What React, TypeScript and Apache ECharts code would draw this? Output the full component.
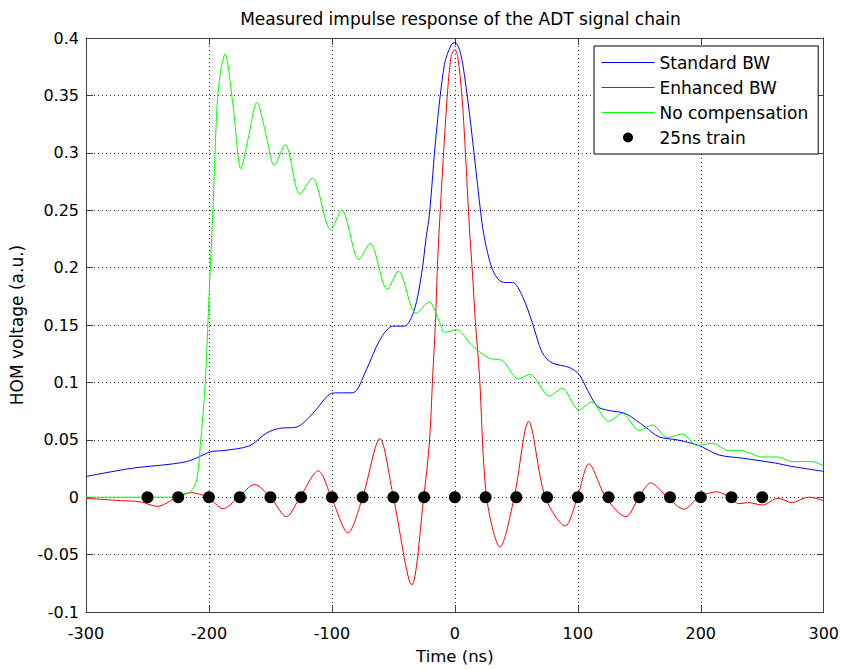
import React, { useEffect, useRef } from "react";
import * as echarts from "echarts";

const FONT = '"DejaVu Sans", "Liberation Sans", Arial, sans-serif';

const chartTitle = "Measured impulse response of the ADT signal chain";
const xName = "Time (ns)";
const yName = "HOM voltage (a.u.)";
const seriesNames = ["Standard BW", "Enhanced BW", "No compensation", "25ns train"];
const seriesColors = ["#0000ff", "#ff0000", "#00ff00", "#000000"];

const standardBW: number[][] = [
  [-300, 0.018], [-264, 0.025], [-218, 0.031], [-197, 0.040], [-189, 0.0405], [-167, 0.0448],
  [-153, 0.056], [-142.5, 0.060], [-129, 0.061], [-115.5, 0.073], [-104.7, 0.087], [-99, 0.0908],
  [-83, 0.091], [-72, 0.111], [-61, 0.137], [-50.5, 0.149], [-41, 0.149], [-33, 0.163],
  [-27, 0.195], [-23.4, 0.226], [-20.7, 0.246], [-15.3, 0.315], [-8.5, 0.377], [-3, 0.394],
  [0, 0.396], [3, 0.392], [6.3, 0.378], [11.8, 0.335], [17.2, 0.284], [22.6, 0.235],
  [26.6, 0.213], [30.7, 0.198], [36, 0.189], [41, 0.187], [47, 0.187], [55, 0.175],
  [63, 0.152], [71, 0.126], [79, 0.117], [93, 0.113], [101, 0.107], [108, 0.093],
  [116, 0.079], [125, 0.0756], [139, 0.0727], [155, 0.061], [166, 0.0526], [182, 0.0497],
  [198.5, 0.045], [214.7, 0.0368], [233.7, 0.034], [260.8, 0.0297], [274, 0.0268], [300, 0.0225],
];

const enhancedBW: number[][] = [
  [-300, -0.001], [-285, -0.002], [-272, -0.003], [-256, -0.004], [-242, -0.008], [-226, 0],
  [-215, 0.004], [-201, 0], [-188.5, -0.010], [-176, 0], [-163, 0.011], [-150, 0],
  [-137, -0.017], [-126, 0], [-111, 0.023], [-100.5, 0], [-87, -0.031], [-75, 0],
  [-61, 0.051], [-50, 0], [-35, -0.0765], [-25.3, 0], [-20.7, 0.048], [-18, 0.106],
  [-15.8, 0.152], [-14, 0.206], [-11.2, 0.263], [-8.5, 0.312], [-5.8, 0.355], [-3, 0.384],
  [0, 0.390], [2.3, 0.384], [5.8, 0.349], [9, 0.292], [11.8, 0.235], [14.5, 0.192],
  [16.6, 0.154], [20, 0.106], [25.8, 0], [36.7, -0.0435], [48.3, 0], [60, 0.066],
  [73.5, 0], [89.7, -0.025], [99.7, 0], [109, 0.029], [122.7, 0], [139, -0.017],
  [149.8, 0], [159.3, 0.0125], [172.8, 0], [186.3, -0.0105], [198.5, 0], [213.4, 0.0047],
  [222.9, 0], [231, -0.0056], [239, -0.0047], [250, -0.0068], [263, -0.001], [274, -0.0047],
  [287.7, 0], [300, -0.003],
];

const noCompensation: number[][] = [
  [-300, 0], [-260, 0], [-230, 0], [-223, 0.001], [-215, 0.005], [-210, 0.015],
  [-207, 0.045], [-203, 0.10], [-200, 0.174], [-196.6, 0.255], [-193.4, 0.341], [-190.6, 0.37],
  [-187, 0.386], [-180.4, 0.341], [-174, 0.286], [-168.2, 0.312], [-161, 0.344], [-152.8, 0.312],
  [-147, 0.289], [-138, 0.307], [-126, 0.264], [-116, 0.278], [-101, 0.233], [-92, 0.250],
  [-78, 0.207], [-69, 0.221], [-55, 0.181], [-46, 0.197], [-31.5, 0.160], [-21, 0.170],
  [-12.6, 0.153], [-8.5, 0.1435], [1, 0.146], [14.5, 0.1315], [28, 0.121], [38.6, 0.119],
  [52, 0.103], [61, 0.107], [77, 0.088], [87, 0.095], [101, 0.076], [111, 0.083],
  [125, 0.066], [136, 0.073], [150, 0.058], [160.6, 0.063], [172.8, 0.052], [185, 0.055],
  [197, 0.045], [209, 0.047], [223, 0.0405], [233, 0.0405], [250, 0.035], [263, 0.035],
  [274, 0.031], [290.5, 0.031], [300, 0.027],
];

const trainTimes = [-250, -225, -200, -175, -150, -125, -100, -75, -50, -25, 0, 25, 50, 75, 100, 125, 150, 175, 200, 225, 250];
const trainLevel = 0;

const xMin = -300;
const xMax = 300;
const xStep = 100;
const yMin = -0.1;
const yMax = 0.4;
const yStep = 0.05;

const AXIS_COLOR = "#404040";

export default function App() {
  const ref = useRef<HTMLDivElement>(null);

  useEffect(() => {
    document.body.style.margin = "0";
    const chart = echarts.init(ref.current!, null, { renderer: "svg" });
    const axisLine = { show: true, onZero: false, lineStyle: { color: AXIS_COLOR, width: 1 } };
    const axisTick = { show: true, inside: true, length: 7, lineStyle: { color: AXIS_COLOR, width: 1 } };
    const splitLine = { show: true, lineStyle: { color: "#333", width: 1, type: [1, 3] } };
    const yFmt = (v: number) => String(Number(v.toFixed(2)));
    const lineSeries = [standardBW, enhancedBW, noCompensation].map((d, i) => ({
      name: seriesNames[i],
      type: "line",
      data: d,
      symbol: "none",
      smooth: 0.3,
      lineStyle: { color: seriesColors[i], width: 1 },
      itemStyle: { color: seriesColors[i] },
    }));
    chart.setOption({
      animation: false,
      backgroundColor: "#fff",
      title: {
        text: chartTitle,
        left: 455.5,
        top: 5,
        textAlign: "center",
        textStyle: { fontFamily: FONT, fontSize: 17, fontWeight: "normal", color: "#000" },
      },
      grid: { left: 86, top: 38, width: 739, height: 581 },
      legend: {
        orient: "vertical",
        left: 594,
        top: 46,
        itemWidth: 53,
        itemHeight: 10,
        itemGap: 8,
        padding: [8, 10, 8, 7],
        borderColor: "#000",
        borderWidth: 1,
        backgroundColor: "#fff",
        textStyle: { fontFamily: FONT, fontSize: 17, color: "#000" },
        data: seriesNames.map((n, i) =>
          i === 3
            ? { name: n, icon: "circle", itemStyle: { color: "#000", opacity: 1 } }
            : {
                name: n,
                itemStyle: { color: "rgba(0,0,0,0)", borderWidth: 0, opacity: 0 },
                lineStyle: { color: seriesColors[i], width: 1, opacity: 1 },
              }
        ),
      },
      xAxis: [
        {
          type: "value", min: xMin, max: xMax, interval: xStep, position: "bottom",
          name: xName, nameLocation: "middle", nameGap: 36,
          nameTextStyle: { fontFamily: FONT, fontSize: 16.5, color: "#000" },
          axisLine, axisTick,
          axisLabel: { fontFamily: FONT, fontSize: 16, color: "#000", margin: 13 },
          splitLine,
        },
        {
          type: "value", min: xMin, max: xMax, interval: xStep, position: "top",
          axisLine, axisTick, axisLabel: { show: false }, splitLine: { show: false },
        },
      ],
      yAxis: [
        {
          type: "value", min: yMin, max: yMax, interval: yStep, position: "left",
          name: yName, nameLocation: "middle", nameGap: 61, nameRotate: 90,
          nameTextStyle: { fontFamily: FONT, fontSize: 17, color: "#000" },
          axisLine, axisTick,
          axisLabel: { fontFamily: FONT, fontSize: 16, color: "#000", margin: 7, formatter: yFmt },
          splitLine,
        },
        {
          type: "value", min: yMin, max: yMax, interval: yStep, position: "right",
          axisLine, axisTick, axisLabel: { show: false }, splitLine: { show: false },
        },
      ],
      series: [
        ...lineSeries,
        {
          name: seriesNames[3], type: "scatter", data: trainTimes.map((t) => [t, trainLevel]),
          symbol: "circle", symbolSize: 12, itemStyle: { color: "#000", opacity: 1 }, z: 5,
        },
      ],
    });
    return () => chart.dispose();
  }, []);

  return (
    <div
      ref={ref}
      style={{ position: "fixed", left: 0, top: 0, width: 842, height: 670, background: "#fff" }}
    />
  );
}
